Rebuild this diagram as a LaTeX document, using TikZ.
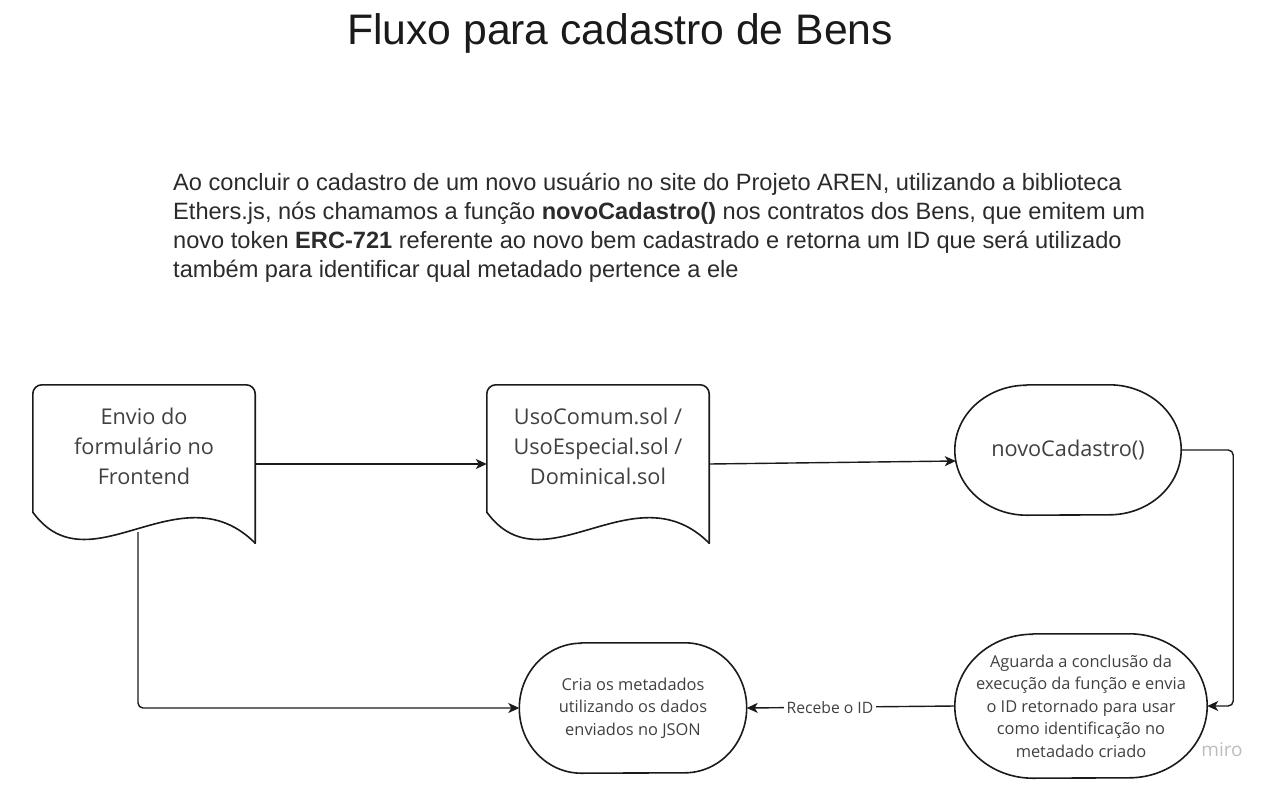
\documentclass[tikz,border=0pt]{standalone}
\usepackage{fontspec}
\setmainfont{Liberation Sans}
\newfontfamily\nodefont{Open Sans}
\usetikzlibrary{arrows.meta,calc}
\definecolor{ink}{HTML}{1A1A1A}
\definecolor{txt}{HTML}{2B2B2B}
\definecolor{ntxt}{HTML}{404040}
\definecolor{wm}{HTML}{BDBDBD}
% document shape: rounded top, wavy bottom
\newcommand\docshape[1]{%
  \draw[shp,rounded corners=9pt] ($(#1.south west)+(0,-31)$) -- (#1.north west) -- (#1.north east) -- (#1.south east);
  \draw[shp] (#1.south east) .. controls +(-75,-75) and +(57,78) .. ($(#1.south west)+(0,-31)$);}
% terminal shape: flat top/bottom, elliptic ends
\newcommand\termshape[3]{%
  \draw[shp] ($(#1.north west)+(#2,0)$) -- ($(#1.north east)+(-#2,0)$)
    arc[start angle=90,end angle=-90,x radius=#2pt,y radius=#3pt]
    -- ($(#1.south west)+(#2,0)$)
    arc[start angle=270,end angle=90,x radius=#2pt,y radius=#3pt] -- cycle;}
\begin{document}
\begin{tikzpicture}[x=1pt,y=-1pt,
  shp/.style={draw=ink,line width=1.6pt,line join=round,line cap=round},
  conn/.style={draw=ink,line width=1.4pt,-{Stealth[length=11pt,width=10pt,inset=3pt]}},
  area/.style={inner sep=0pt,draw=none},
  big/.style={inner sep=0pt,font=\nodefont\fontsize{21.7}{30}\selectfont,text=ntxt,align=center},
  small/.style={inner sep=0pt,font=\nodefont\fontsize{16.4}{22.5}\selectfont,text=ntxt,align=center},
  para/.style={inner sep=0pt,anchor=base west,font=\fontsize{23.6}{29}\selectfont,text=txt},
]
\useasboundingbox (0,0) rectangle (1272,785);

% title and paragraph
\node[inner sep=0pt,font=\fontsize{42.7}{50}\selectfont,text=ink] (title) at (620,33) {Fluxo para cadastro de Bens};
\node[para] (p1) at (173,190) {Ao concluir o cadastro de um novo usuário no site do Projeto AREN, utilizando a biblioteca};
\node[para] (p2) at (173,219) {Ethers.js, nós chamamos a função \textbf{novoCadastro()} nos contratos dos Bens, que emitem um};
\node[para] (p3) at (173,248) {novo token \textbf{ERC-721} referente ao novo bem cadastrado e retorna um ID que será utilizado};
\node[para] (p4) at (173,277) {também para identificar qual metadado pertence a ele};

% shapes
\node[area,minimum width=222,minimum height=158] (doc1) at (144,464) {};
\node[area,minimum width=222,minimum height=158] (doc2) at (598,464) {};
\docshape{doc1}
\docshape{doc2}
\node[big] (doc1t) at (144,446) {Envio do\\formulário no\\Frontend};
\node[big] (doc2t) at (598,446) {UsoComum.sol /\\UsoEspecial.sol /\\Dominical.sol};

\node[area,minimum width=226,minimum height=130,big] (nc) at (1068,450) {novoCadastro()};
\termshape{nc}{72}{65}
\node[area,minimum width=252,minimum height=144,small] (ag) at (1081,706) {Aguarda a conclusão da\\execução da função e envia\\o ID retornado para usar\\como identificação no\\metadado criado};
\termshape{ag}{78}{72}
\node[area,minimum width=227,minimum height=130,small] (cria) at (633,708) {Cria os metadados\\utilizando os dados\\enviados no JSON};
\termshape{cria}{62}{65}

% connectors
\draw[conn] (doc1.east) -- (doc2.west);
\draw[conn] (doc2.east) -- ($(nc.west)+(1,11)$);
\draw[conn,rounded corners=5pt] (nc.east) -| ($(ag.east)+(26,0)$) -- (ag.east);
\draw[conn] (ag.west) -- node[pos=0.6,fill=white,inner sep=3pt,font=\nodefont\fontsize{15.7}{18}\selectfont,text=ntxt] (lbl) {Recebe o ID} (cria.east);
\coordinate (d1out) at (138,532);
\draw[conn,rounded corners=5pt] (d1out) |- (cria.west);

% watermark
\node[inner sep=0pt,font=\nodefont\fontsize{19}{20}\selectfont,text=wm] (miro) at (1222,750) {miro};
\end{tikzpicture}
\end{document}
